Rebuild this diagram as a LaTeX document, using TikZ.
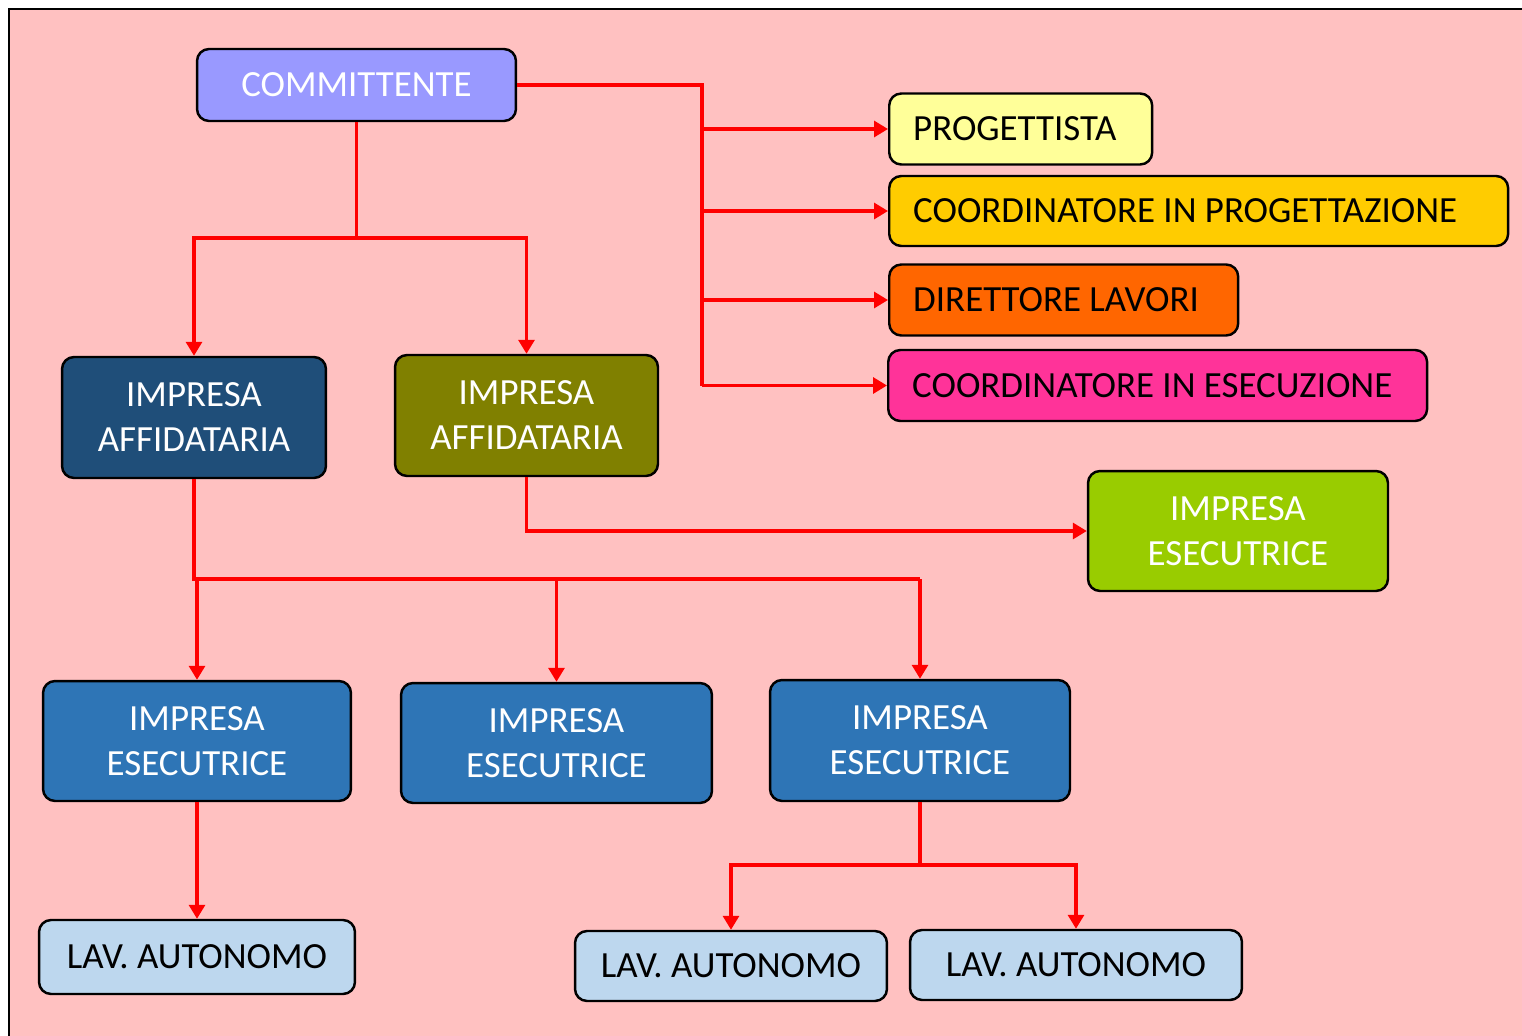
\documentclass[tikz,border=0pt]{standalone}
\usepackage{fontspec}
\setmainfont{Carlito}
\usetikzlibrary{positioning, arrows.meta}
\definecolor{sfondo}{HTML}{FFC1C1}
\definecolor{viola}{HTML}{9999FF}
\definecolor{giallo}{HTML}{FFFF99}
\definecolor{oro}{HTML}{FFCC00}
\definecolor{arancio}{HTML}{FF6600}
\definecolor{fucsia}{HTML}{FF3399}
\definecolor{blunotte}{HTML}{1F4E79}
\definecolor{oliva}{HTML}{808000}
\definecolor{lime}{HTML}{99CC00}
\definecolor{blu}{HTML}{2E75B6}
\definecolor{celeste}{HTML}{BDD7EE}

\begin{document}
\begin{tikzpicture}[x=0.02cm, y=-0.02cm,
  box/.style={draw=black, line width=1.4pt, rounded corners=0.24cm, inner sep=0pt,
    font=\fontsize{21}{25.6}\selectfont, align=center},
  lbox/.style={box, anchor=west, inner xsep=0.48cm, align=flush left, text width=#1},
  wire/.style={red, line width=1.8pt},
  arr/.style={wire, -{Triangle[width=0.32cm, length=0.28cm]}}]
\useasboundingbox (0,0) rectangle (1522,1035);
\draw[fill=sfondo, line width=1.7pt] (9,9) rectangle (1540,1050);

% committente e figure tecniche
\node[box, fill=viola, text=white, minimum width=6.38cm, minimum height=1.44cm] (comm) at (356.5,85) {COMMITTENTE};
\node[lbox=4.3cm, fill=giallo, minimum height=1.42cm] (prog) at (888,129) {PROGETTISTA};
\node[lbox=11.42cm, fill=oro, minimum height=1.40cm] (cp) at (888,211) {COORDINATORE IN PROGETTAZIONE};
\node[lbox=6.02cm, fill=arancio, minimum height=1.42cm] (dl) at (888,300) {DIRETTORE LAVORI};
\node[lbox=9.82cm, fill=fucsia, minimum height=1.42cm] (ce) at (887,385.5) {COORDINATORE IN ESECUZIONE};

% imprese
\node[box, fill=blunotte, text=white, minimum width=5.28cm, minimum height=2.42cm] (aff1) at (194,417.5) {IMPRESA\\AFFIDATARIA};
\node[box, fill=oliva, text=white, minimum width=5.26cm, minimum height=2.42cm] (aff2) at (526.5,415.5) {IMPRESA\\AFFIDATARIA};
\node[box, fill=lime, text=white, minimum width=6.0cm, minimum height=2.4cm] (esg) at (1238,531) {IMPRESA\\ESECUTRICE};
\node[box, fill=blu, text=white, minimum width=6.16cm, minimum height=2.4cm] (es1) at (197,741) {IMPRESA\\ESECUTRICE};
\node[box, fill=blu, text=white, minimum width=6.22cm, minimum height=2.4cm] (es2) at (556.5,743) {IMPRESA\\ESECUTRICE};
\node[box, fill=blu, text=white, minimum width=6.0cm, minimum height=2.42cm] (es3) at (920,740.5) {IMPRESA\\ESECUTRICE};

% lavoratori autonomi
\node[box, fill=celeste, minimum width=6.32cm, minimum height=1.48cm] (lav1) at (197,957) {LAV. AUTONOMO};
\node[box, fill=celeste, minimum width=6.24cm, minimum height=1.40cm] (lav2) at (731,966) {LAV. AUTONOMO};
\node[box, fill=celeste, minimum width=6.64cm, minimum height=1.40cm] (lav3) at (1076,965) {LAV. AUTONOMO};

% collegamenti
\coordinate (trunk) at (702,85);
\draw[wire] (comm.east) -- (trunk) -- (trunk |- ce.west);
\foreach \n in {prog, cp, dl, ce}
  \draw[arr] (trunk |- \n.west) -- (\n.west);

\coordinate (split1) at (356.5,238);
\draw[wire] (comm.south) -- (split1);
\draw[arr] (split1) -| (aff1.north);
\draw[arr] (split1) -| (aff2.north);

\draw[arr] (aff2.south) |- (esg.west);

\coordinate (bus2) at (194,579);
\draw[wire] (aff1.south) -- (bus2) -- (bus2 -| es3.north);
\foreach \n in {es1, es2, es3}
  \draw[arr] (bus2 -| \n.north) -- (\n.north);

\draw[arr] (es1.south) -- (lav1.north);

\coordinate (bus3) at (920,865);
\draw[wire] (es3.south) -- (bus3);
\draw[arr] (bus3) -| (lav2.north);
\draw[arr] (bus3) -| (lav3.north);
\end{tikzpicture}
\end{document}
